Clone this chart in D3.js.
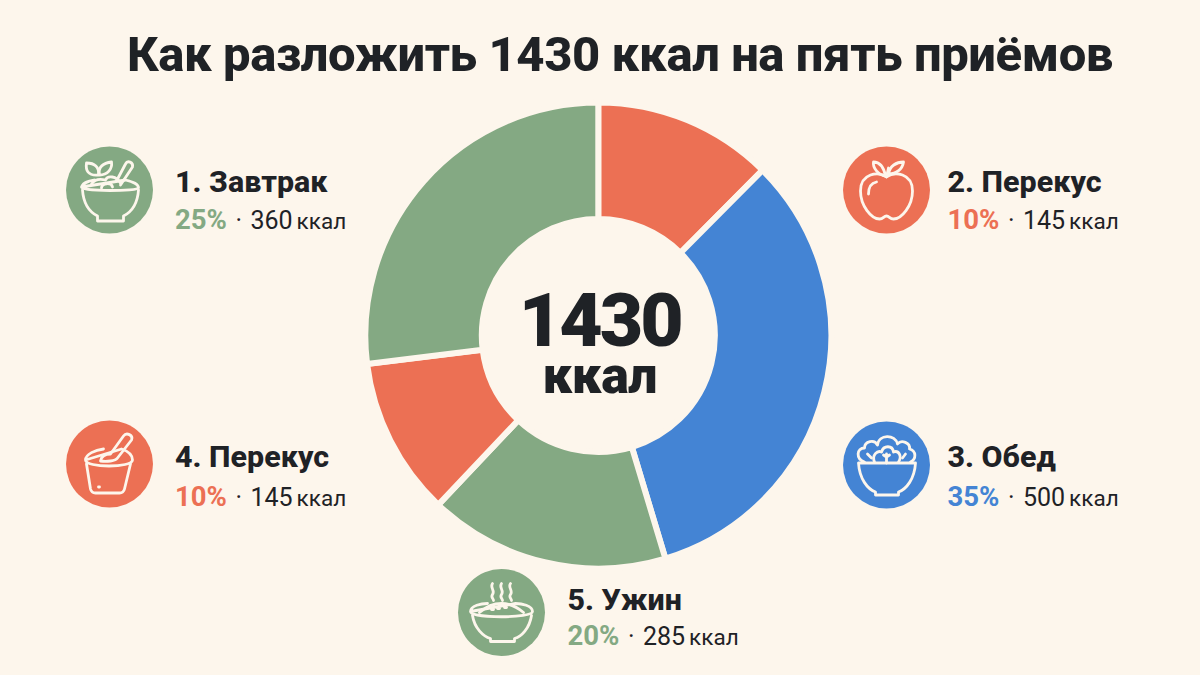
<!DOCTYPE html>
<html lang="ru"><head><meta charset="utf-8">
<script src="https://cdn.jsdelivr.net/npm/d3@7"></script>
<style>html,body{margin:0;padding:0;background:#FDF6EC}svg{display:block}text{font-family:Roboto,sans-serif}</style>
</head><body><svg id="c" width="1200" height="675"></svg>
<script>
// Data
const titleText = "Как разложить 1430 ккал на пять приёмов";
const totalValue = "1430";
const totalUnit = "ккал";
const mealNames = ["1. Завтрак","2. Перекус","3. Обед","4. Перекус","5. Ужин"];
const mealPercents = [25,10,35,10,20];
const mealKcal = [360,145,500,145,285];
const mealHues = ["green","red","blue","red","green"];
// Slice shares as drawn, clockwise from 12 o'clock (share of the ring, in %)
const sliceMeals = [1,2,4,3,0];
const sliceShares = [12.45,32.9,16.7,11.0,26.95];

// Style and layout
const palette = {green:"#84A983",red:"#EC7054",blue:"#4484D4"};
const bg="#FDF6EC", ink="#1F2226";
const anchors=[[109.5,190,175,191.5,229],[886.5,190,947.5,191.5,229],[886.5,465,947.5,466.5,505.5],[109.5,464,175,466.5,505.5],[501.5,612.5,567.5,610,645]];
const iconPaths=[
 ["M-28,-3 C-26,-8 -20,-9 -15,-10 M16,-10 C24,-8 29,-6 29,-2 C29,1 -28,2 -28,-3Z","M-27,0 C-26,14 -20,22 -12,26 L-12,31 L14,31 L14,26 C22,22 28,14 29,0","M-18,-6 C-14,-12 -8,-11 -4,-10 C-2,-15 7,-14 11,-7","M-8,-2 C-8,-7 2,-8 3,-3","M7,-9 L16,-26 C18,-30 24,-28 23,-23 L11,-5","M-11,-15 C-22,-14 -24,-20 -23,-27 C-15,-27 -10,-23 -11,-15Z","M-10,-15 C-12,-23 -6,-27 2,-28 C3,-21 -2,-15 -10,-15Z"],
 ["M0,-13 C-8,-19 -26,-17 -26,1 C-26,16 -15,29 -7,29 C-3,29 -3,26 0,26 C3,26 3,29 7,29 C15,29 26,16 26,1 C26,-17 8,-19 0,-13Z","M-18,4 C-18,-3 -15,-7 -10,-8","M0,-13 L2,-22","M-1,-14 C-3,-24 -8,-28 -13,-28 C-14,-22 -8,-15 -1,-14Z","M2,-16 C3,-24 10,-28 17,-28 C16,-21 10,-16 2,-16Z"],
 ["M-28,-2 L29,-2 C28,14 20,24 12,27 L12,30 L-11,30 L-11,27 C-19,24 -27,14 -28,-2Z","M-22,-3 C-31,-6 -30,-17 -22,-17 C-22,-24 -12,-26 -9,-20 C-8,-31 9,-31 11,-21 C15,-26 24,-22 23,-16 C30,-14 30,-6 24,-3","M-12,-3 C-15,-10 -9,-15 -5,-13 C-3,-20 6,-20 7,-13 C12,-15 16,-9 12,-3","M0,-2 L0,-11 M0,-8 L-3,-10 M0,-8 L3,-10","M-19,-11 L-15,-7","M19,-11 L16,-7"],
 ["M-24,-4 C-24,-10 -14,-14 -6,-15 M12,-15 C18,-13 23,-10 23,-4 C23,4 -24,4 -24,-4Z","M-23,0 L-19,25 Q-18,29 -14,29 L10,29 Q14,29 15,25 L21,0","M-9,-3 C-8,-9 -3,-10 1,-10 L14,-28 C17,-32 24,-29 22,-24 L8,-6 C6,-3 -3,-2 -9,-3Z","M-11,23 L-10,23"],
 ["M-31,-1 C-31,-7 -20,-9 -14,-9 M14,-9 C20,-9 31,-7 31,-1 C31,6 -31,6 -31,-1Z","M-29,3 C-27,16 -18,24 -11,26 L-11,29 L13,29 L13,26 C20,24 28,16 30,3","M-22,0 C-14,-7 -6,-9 0,-9 C6,-9 14,-7 22,0","M-9,-29 C-12,-25 -6,-22 -9,-18 C-11,-15 -8,-14 -8,-12","M0,-29 C-3,-25 3,-22 0,-18 C-2,-15 1,-14 1,-12","M9,-29 C6,-25 12,-22 9,-18 C7,-15 10,-14 10,-12","M-4,-4 L-2,-4","M3,-5 L5,-5","M-10,-3 L-8,-3"]
];

const svg=d3.select("#c");
svg.append("rect").attr("width",1200).attr("height",675).attr("fill",bg);

svg.append("text").attr("x",620).attr("y",71).attr("text-anchor","middle")
 .attr("font-size",49).attr("font-weight",800).attr("letter-spacing",-0.42).attr("fill",ink).text(titleText);

const pie=d3.pie().sort(null).value(d=>d.share);
const arc=d3.arc().innerRadius(116.5).outerRadius(233);
const slices=sliceShares.map((share,i)=>({share,meal:sliceMeals[i]}));
const ring=svg.append("g").attr("transform","translate(598.3,335.5)");
ring.selectAll("path").data(pie(slices)).join("path")
 .attr("d",arc).attr("fill",d=>palette[mealHues[d.data.meal]])
 .attr("stroke",bg).attr("stroke-width",6).attr("stroke-linejoin","miter");

ring.append("text").attr("x",1.5).attr("y",10.5).attr("text-anchor","middle")
 .attr("font-size",75).attr("font-weight",900).attr("letter-spacing",-3).attr("fill",ink).text(totalValue);
ring.append("text").attr("x",1.5).attr("y",57).attr("text-anchor","middle")
 .attr("font-size",52).attr("font-weight",900).attr("letter-spacing",-0.5).attr("fill",ink).text(totalUnit);

const items=svg.selectAll("g.item").data(mealNames).join("g").attr("class","item");
items.each(function(name,i){
 const g=d3.select(this), a=anchors[i], col=palette[mealHues[i]];
 const ic=g.append("g").attr("transform",`translate(${a[0]},${a[1]})`);
 ic.append("circle").attr("r",43.5).attr("fill",col);
 ic.selectAll("path").data(iconPaths[i]).join("path").attr("d",d=>d)
  .attr("fill","none").attr("stroke",bg).attr("stroke-width",2.8)
  .attr("stroke-linecap","round").attr("stroke-linejoin","round");
 g.append("text").attr("x",a[2]).attr("y",a[3]).attr("font-size",30.4).attr("font-weight",800)
  .attr("fill",ink).text(name);
 const t=g.append("text").attr("x",a[2]).attr("y",a[4]).attr("font-size",25).attr("fill",ink);
 t.append("tspan").attr("font-weight",700).attr("font-size",27.5).attr("fill",col).text(mealPercents[i]+"%");
 t.append("tspan").attr("dx",8.5).text("·");
 t.append("tspan").attr("dx",8.5).text(mealKcal[i]);
 t.append("tspan").attr("dx",4).attr("font-size",22.5).text("ккал");
});
</script></body></html>
